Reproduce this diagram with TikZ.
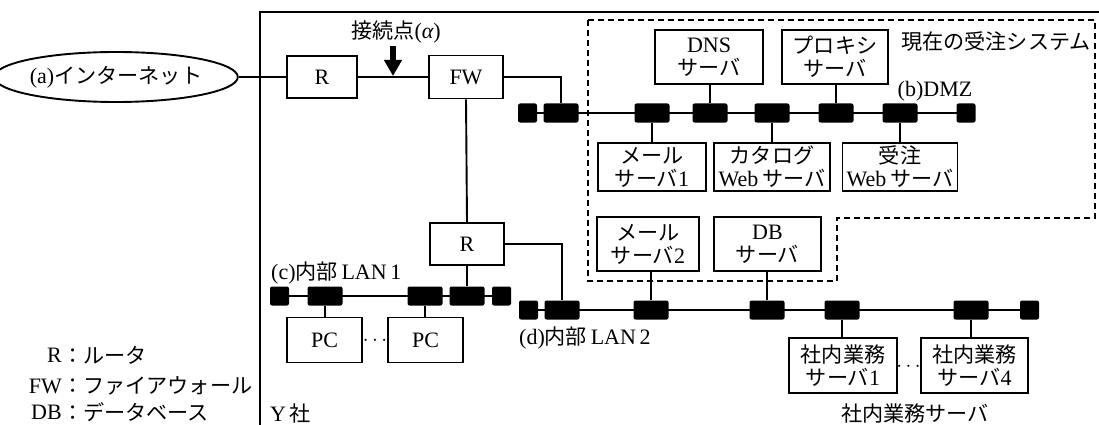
\documentclass[tikz,border=0pt]{standalone}
\usepackage{fontspec}
\setmainfont{Liberation Serif}
\newfontfamily\jp[Scale=0.96]{Noto Sans CJK JP}
\usetikzlibrary{shapes.geometric,arrows.meta}
\newcommand\fsz{\fontsize{22}{23}\selectfont}
\begin{document}
\begin{tikzpicture}[x=1pt,y=-1pt,
  conn/.style={line width=1.9pt},
  box/.style={draw, line width=1.9pt, inner sep=0pt, align=center, font=\fsz},
  blk/.style={fill=black, rounded corners=2pt, minimum width=35pt, minimum height=19pt, inner sep=0pt},
  endblk/.style={blk, minimum width=19pt},
  lbl/.style={inner sep=0pt, font=\fsz},
  dashbox/.style={line width=1.8pt, dash pattern=on 6pt off 4pt}]
\useasboundingbox (0,0) rectangle (1099,425);

% Y-sha border
\draw[conn] (260,425) -- (260,12) -- (1099,12);
% current order system (dashed)
\draw[dashbox] (588,20) -- (1095,20) -- (1095,218) -- (837,218) -- (837,281) -- (588,281) -- cycle;

% internet
\node[draw, ellipse, line width=1.9pt, minimum width=214pt, minimum height=50pt, inner sep=0pt, font=\fsz] (inet) at (116,77) {(a){\jp インターネット}};

% routers and firewall
\node[box, minimum width=70pt, minimum height=42pt] (rt) at (322,77) {R};
\node[box, minimum width=74pt, minimum height=43pt] (fw) at (466,77) {FW};
\node[box, minimum width=74pt, minimum height=42pt] (rl) at (467,244) {R};

\draw[conn] (inet.east) -- (rt.west);
\draw[conn] (rt.east) -- (fw.west);
\draw[conn] (fw.south) -- (rl.north);

% connection point arrow
\coordinate (apt) at (393,76);
\coordinate (atop) at (393,46);
\draw[line width=5.5pt, -{Triangle[width=17pt,length=16pt]}] (atop) -- (apt);
\node[lbl] (alpha) at (396,32) {{\jp 接続点}({\itshape α})};

% DMZ bus
\node[endblk] (dL) at (527.5,113) {};
\node[blk] (dfw) at (561,113) {};
\node[blk] (dm1) at (652,113) {};
\node[blk] (ddns) at (710,113) {};
\node[blk] (dcat) at (772,113) {};
\node[blk] (dpx) at (836,113) {};
\node[blk] (djc) at (900,113) {};
\node[endblk] (dR) at (966,113) {};
\draw[conn] (dL.center) -- (dR.center);
\node[lbl] (dmzlbl) at (935,91) {(b)DMZ};
\node[lbl, anchor=east] (syslbl) at (1091,41) {\jp 現在の受注システム};

\draw[conn] (fw.east) -| (dfw.north);

\node[box, minimum width=108pt, minimum height=54pt] (dns) at (709,57) {DNS\\{\jp サーバ}};
\node[box, minimum width=106pt, minimum height=54pt] (px) at (835,57) {{\jp プロキシ}\\{\jp サーバ}};
\node[box, minimum width=108pt, minimum height=48pt] (m1) at (652,167) {{\jp メール}\\{\jp サーバ}1};
\node[box, minimum width=116pt, minimum height=48pt] (cat) at (772,167) {{\jp カタログ}\\Web\,{\jp サーバ}};
\node[box, minimum width=115pt, minimum height=48pt] (jc) at (900,167) {{\jp 受注}\\Web\,{\jp サーバ}};

\draw[conn] (ddns.north) -- (ddns.north |- dns.south);
\draw[conn] (dpx.north) -- (dpx.north |- px.south);
\draw[conn] (dm1.south) -- (dm1.south |- m1.north);
\draw[conn] (dcat.south) -- (dcat.south |- cat.north);
\draw[conn] (djc.south) -- (djc.south |- jc.north);

% LAN1
\node[endblk] (aL) at (279.5,296) {};
\node[blk] (ap1) at (325,296) {};
\node[blk] (ap2) at (425,296) {};
\node[blk] (ar) at (467,296) {};
\node[endblk] (aR) at (501.5,296) {};
\draw[conn] (aL.center) -- (aR.center);
\node[lbl, anchor=west] (lan1) at (271,273) {(c){\jp 内部}\,LAN\,1};
\draw[conn] (rl.south) -- (ar.north);
\node[box, minimum width=75pt, minimum height=45pt] (pc1) at (324.5,340) {PC};
\node[box, minimum width=75pt, minimum height=45pt] (pc2) at (425.5,340) {PC};
\draw[conn] (ap1.south) -- (ap1.south |- pc1.north);
\draw[conn] (ap2.south) -- (ap2.south |- pc2.north);
\node[lbl] (dots1) at (375,341) {$\cdots$};

% LAN2
\node[endblk] (bL) at (528.5,310) {};
\node[blk] (br) at (562,310) {};
\node[blk] (bm2) at (651,310) {};
\node[blk] (bdb) at (767,310) {};
\node[blk] (bs1) at (842,310) {};
\node[blk] (bs4) at (971,310) {};
\node[endblk] (bR) at (1029.5,310) {};
\draw[conn] (bL.center) -- (bR.center);
\node[lbl, anchor=west] (lan2) at (519,338) {(d){\jp 内部}\,LAN\,2};
\draw[conn] (rl.east) -| (br.north);

\node[box, minimum width=102pt, minimum height=54pt] (m2) at (648,244) {{\jp メール}\\{\jp サーバ}2};
\node[box, minimum width=107pt, minimum height=54pt] (db) at (767.5,244) {DB\\{\jp サーバ}};
\draw[conn] (bm2.north) -- (bm2.north |- m2.south);
\draw[conn] (bdb.north) -- (bdb.north |- db.south);

\node[box, minimum width=108pt, minimum height=55pt] (s1) at (843,365.5) {{\jp 社内業務}\\{\jp サーバ}1};
\node[box, minimum width=107pt, minimum height=55pt] (s4) at (974.5,365.5) {{\jp 社内業務}\\{\jp サーバ}4};
\draw[conn] (bs1.south) -- (bs1.south |- s1.north);
\draw[conn] (bs4.south) -- (bs4.south |- s4.north);
\node[lbl] (dots2) at (908.5,367) {$\cdots$};
\node[lbl] (srvlbl) at (915,413) {\jp 社内業務サーバ};

% Y-sha label
\node[lbl, anchor=west] (ysha) at (270,413) {Y\,{\jp 社}};

% legend
\node[lbl, anchor=east] (k1) at (62,355) {R};
\node[lbl, anchor=east] (k2) at (62,386) {FW};
\node[lbl, anchor=east] (k3) at (62,412) {DB};
\node[lbl, anchor=west] (v1) at (62,355) {{\jp ：ルータ}};
\node[lbl, anchor=west] (v2) at (62,386) {{\jp ：ファイアウォール}};
\node[lbl, anchor=west] (v3) at (62,412) {{\jp ：データベース}};
\end{tikzpicture}
\end{document}
